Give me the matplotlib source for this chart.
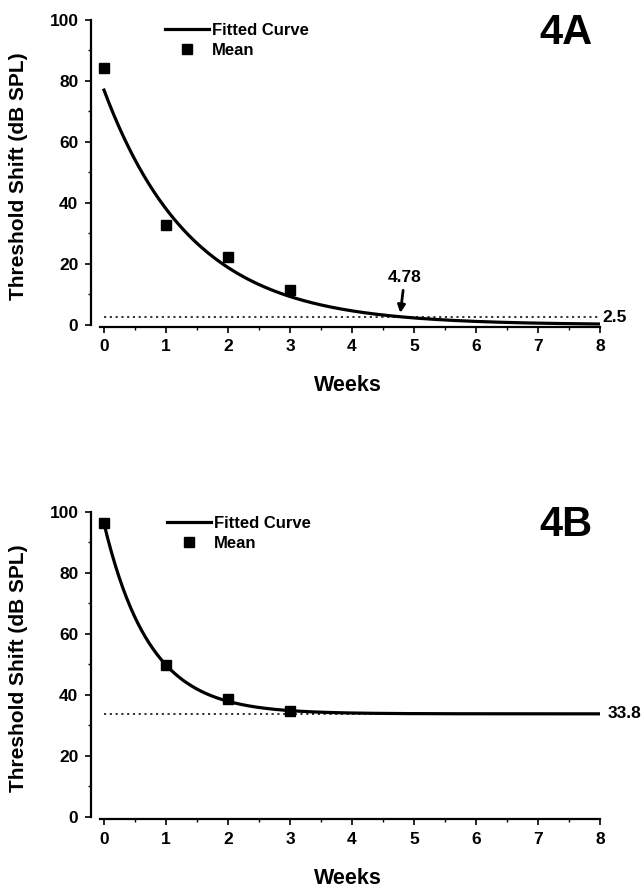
import numpy as np
import matplotlib
matplotlib.use("Agg")
import matplotlib.pyplot as plt
from matplotlib.ticker import MultipleLocator

plt.rcParams['font.family'] = ['Liberation Sans', 'DejaVu Sans']
plt.rcParams['font.weight'] = 'bold'

# ---- data ----
weeks_a = [0, 1, 2, 3]
mean_a = [84.4, 32.7, 22.4, 11.5]
fit_a = dict(amp=77.0, rate=0.705, floor=0.0)   # fitted exponential decay
thresh_a = 2.5
cross_a = 4.78

weeks_b = [0, 1, 2, 3]
mean_b = [96.4, 49.8, 38.6, 34.7]
fit_b = dict(amp=62.4, rate=1.36, floor=33.8)
thresh_b = 33.8

panel_labels = ["4A", "4B"]
xticks = [0, 1, 2, 3, 4, 5, 6, 7, 8]
yticks = [0, 20, 40, 60, 80, 100]

fig = plt.figure(figsize=(6.44, 8.89), dpi=100)
ax_a = fig.add_axes([0.1413, 0.6322, 0.7904, 0.3453])
ax_b = fig.add_axes([0.1413, 0.0787, 0.7904, 0.3454])


def style(ax):
    ax.set_xlim(-0.21, 8.0)
    ax.set_ylim(-0.7, 100)
    for s in ['top', 'right']:
        ax.spines[s].set_visible(False)
    ax.spines['left'].set_bounds(0, 100)
    ax.spines['bottom'].set_bounds(-0.07, 8)
    for s in ['left', 'bottom']:
        ax.spines[s].set_linewidth(1.6)
    ax.set_xticks(xticks)
    ax.set_yticks(yticks)
    ax.xaxis.set_minor_locator(MultipleLocator(0.5))
    ax.yaxis.set_minor_locator(MultipleLocator(10))
    ax.tick_params(which='major', direction='out', length=4, width=1.2,
                   labelsize=12.5, pad=5)
    ax.tick_params(which='minor', direction='out', length=2.5, width=1)
    for lab in ax.get_xticklabels() + ax.get_yticklabels():
        lab.set_fontweight('bold')
    ax.set_ylabel("Threshold Shift (dB SPL)", fontsize=15, fontweight='bold')
    ax.set_xlabel("Weeks", fontsize=15.5, fontweight='bold', va='top')
    ax.yaxis.set_label_coords(-0.124, 0.49)


def draw(ax, weeks, means, fit, thresh, label, leg_anchor, thresh_dx):
    xs = np.linspace(0, 8, 400)
    ys = fit['floor'] + fit['amp'] * np.exp(-fit['rate'] * xs)
    ax.plot([0, 8], [thresh, thresh], color='#222222', lw=1.3,
            linestyle=(0, (1.2, 2.0)), zorder=1)
    line, = ax.plot(xs, ys, color='black', lw=2.3, label='Fitted Curve', zorder=2)
    pts, = ax.plot(weeks, means, 's', color='black', ms=6.5, lw=0,
                   label='Mean', zorder=3)
    ax.text(8 + thresh_dx, thresh, f"{thresh:g}", ha='left', va='center',
            fontsize=12.5, fontweight='bold', clip_on=False)
    ax.text(0.933, 0.958, label, transform=ax.transAxes, ha='center',
            va='center', fontsize=30, fontweight='bold')
    ax.legend(handles=[line, pts], loc='upper left', bbox_to_anchor=leg_anchor,
              bbox_transform=fig.transFigure, frameon=False, borderpad=0,
              borderaxespad=0, handlelength=2.64, handletextpad=0.2,
              labelspacing=0.3, prop=dict(size=12, weight='bold'))


style(ax_a)
style(ax_b)
ax_a.xaxis.set_label_coords(0.504, -0.156)
ax_b.xaxis.set_label_coords(0.504, -0.158)

draw(ax_a, weeks_a, mean_a, fit_a, thresh_a, panel_labels[0], (0.256, 0.974), 0.04)
draw(ax_b, weeks_b, mean_b, fit_b, thresh_b, panel_labels[1], (0.259, 0.4196), 0.13)

ax_a.annotate(f"{cross_a:g}", xy=(cross_a, 3.9), xytext=(4.85, 15.6),
              ha='center', va='center', fontsize=12.5, fontweight='bold',
              arrowprops=dict(arrowstyle='-|>', color='black', lw=2.0,
                              mutation_scale=11, shrinkA=2, shrinkB=0))

fig.savefig("out.png", dpi=100)
